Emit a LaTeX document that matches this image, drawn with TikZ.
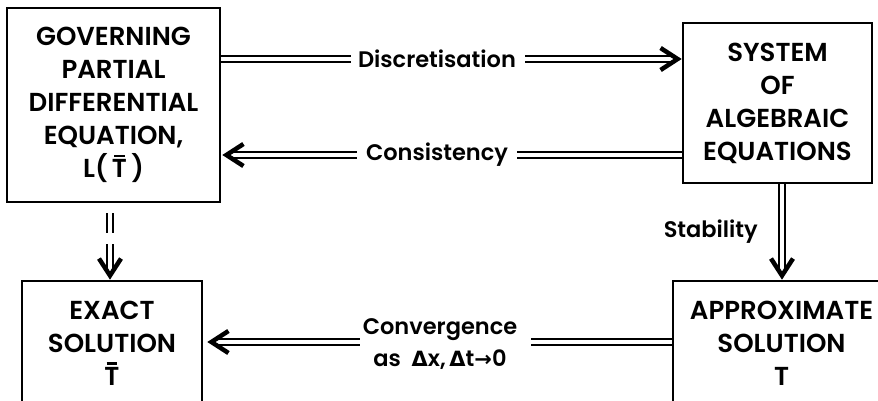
\documentclass[tikz,border=0pt]{standalone}
\usepackage{fontspec}
\setmainfont{Poppins}[UprightFont=* SemiBold]
\newfontfamily\symfont{DejaVu Sans Bold}
\usetikzlibrary{arrows.meta,calc}
\tikzset{
  box/.style={draw, line width=2.6pt, inner sep=0pt},
  boxtext/.style={align=center, font=\fontsize{26}{33}\selectfont, inner sep=0pt},
  lbl/.style={font=\fontsize{22.5}{32}\selectfont, inner sep=0pt, align=center},
  dbl/.style={double=white, line width=2.4pt, double distance=3.2pt},
  barb/.style={line width=2pt, -{Straight Barb[length=17pt, width=22pt, line width=4.5pt]}},
}
% double shaft ending in an open barbed head
\newcommand{\dblarrow}[2]{%
  \draw[dbl, shorten >=6pt] (#1) -- (#2);
  \draw[barb] ($(#2)!3pt!(#1)$) -- (#2);
}
% T with a bar over it
\newcommand{\Tbar}{\leavevmode\hbox{\vbox{\offinterlineskip\hbox to \fontcharwd\font`T{\hss\vrule width 0.42em height 2.2pt\hss}\kern 2.5pt\hbox{T}}}}
\newcommand{\sym}[1]{{\symfont\fontsize{21}{21}\selectfont #1}}
\begin{document}
\begin{tikzpicture}[x=1pt, y=-1pt]
  \useasboundingbox (0,0) rectangle (878,401);

  % boxes
  \node[box, minimum width=213pt, minimum height=194pt] (b1) at (113.5,105) {};
  \node[box, minimum width=189pt, minimum height=160pt] (b2) at (777.5,103) {};
  \node[box, minimum width=180pt, minimum height=124pt] (b3) at (112,343) {};
  \node[box, minimum width=217pt, minimum height=124pt] (b4) at (781.5,343) {};

  % box contents
  \node[boxtext] (t1) at (b1) {GOVERNING\\PARTIAL\\DIFFERENTIAL\\EQUATION,\\L(\,\Tbar\,)};
  \node[boxtext] (t2) at (b2) {SYSTEM\\OF\\ALGEBRAIC\\EQUATIONS};
  \node[boxtext] (t3) at (b3) {EXACT\\SOLUTION\\\Tbar};
  \node[boxtext] (t4) at (b4) {APPROXIMATE\\SOLUTION\\T};

  % labels on the connectors
  \node[lbl] (ld) at (437,59) {Discretisation};
  \node[lbl] (lc) at (437,155) {Consistency};
  \node[lbl] (lv) at (440,344) {Convergence\\as\ \ \sym{Δ}x,\,\sym{Δ}t\sym{→}0};
  \node[lbl, anchor=east] (ls) at (758,232) {Stability};

  % end points of the shafts
  \coordinate (d1) at (b1.east |- ld);
  \coordinate (d2) at ([xshift=-7pt]ld.west);
  \coordinate (d3) at ([xshift=9pt]ld.east);
  \coordinate (d4) at (b2.west |- ld);
  \coordinate (c1) at ([xshift=1pt]b1.east |- lc);
  \coordinate (c2) at ([xshift=-9pt]lc.west);
  \coordinate (c3) at ([xshift=9pt]lc.east);
  \coordinate (c4) at (b2.west |- lc);
  \coordinate (v1) at ([xshift=4pt]b3.east |- 0,342);
  \coordinate (v2) at ([xshift=-3pt]lv.west |- 0,342);
  \coordinate (v3) at ([xshift=14pt]lv.east |- 0,342);
  \coordinate (v4) at (b4.west |- 0,342);
  \coordinate (s1) at (b2.south -| 782,0);
  \coordinate (s2) at (b4.north -| 782,0);
  \coordinate (g1) at (110,213);
  \coordinate (g2) at (110,233);
  \coordinate (g3) at (110,244);
  \coordinate (g4) at (b3.north -| g3);

  % discretisation
  \draw[dbl] (d1) -- (d2);
  \dblarrow{d3}{d4}
  % consistency
  \dblarrow{c2}{c1}
  \draw[dbl] (c4) -- (c3);
  % convergence
  \dblarrow{v2}{v1}
  \draw[dbl] (v4) -- (v3);
  % stability
  \dblarrow{s1}{s2}
  % governing equation to exact solution
  \draw[dbl] (g1) -- (g2);
  \dblarrow{g3}{g4}
\end{tikzpicture}
\end{document}
